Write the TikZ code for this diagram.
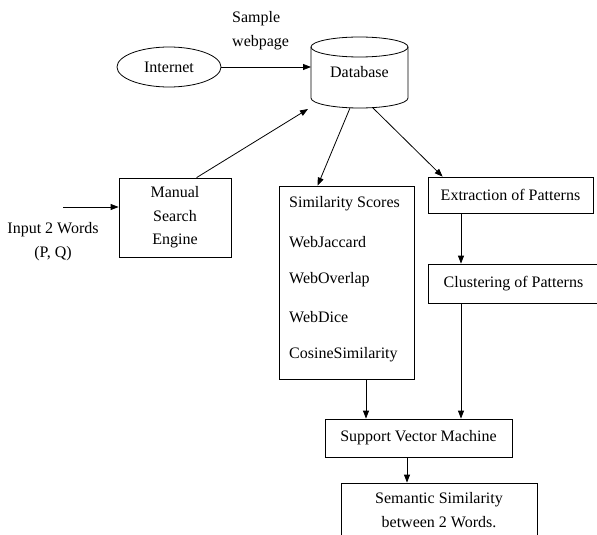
\documentclass[tikz,border=0pt]{standalone}
\usepackage{fontspec}
\setmainfont{Liberation Serif}
\usetikzlibrary{shapes.geometric,arrows.meta,calc}
\begin{document}
\begin{tikzpicture}[x=1pt,y=1pt,
  every node/.style={font=\fontsize{16}{23.5}\selectfont, inner sep=0pt},
  boxed/.style={draw, line width=0.8pt, rectangle, align=center},
  arr/.style={line width=0.8pt, -{Triangle[length=8pt,width=6pt]}},
  lbl/.style={anchor=west}]
\useasboundingbox (0,0) rectangle (597,-535);
% nodes
\node[ellipse, draw, line width=0.8pt, minimum width=104pt, minimum height=40pt] (inet) at (169,-67) {Internet};
\node[align=left, anchor=west] (sample) at (232,-30.5) {Sample\\webpage};
% cylinder
\draw[line width=0.8pt] (359.5,-47) ellipse [x radius=48.5pt, y radius=10pt];
\draw[line width=0.8pt] (311,-47) -- (311,-98) arc[start angle=180, end angle=360, x radius=48.5pt, y radius=10pt] -- (408,-47);
\node (db) at (359.5,-72) {Database};
\coordinate (dbin) at (311,-67);
\coordinate (dbman) at (308,-109);
\coordinate (dbsim) at (350,-108);
\coordinate (dbext) at (373,-108);
\node[boxed, minimum width=112pt, minimum height=79pt] (man) at (175,-217.5) {Manual\\Search\\Engine};
\coordinate (inp) at (63,-207);
\node[align=center] (input) at (53,-241.5) {Input 2 Words\\(P, Q)};
\node[boxed, minimum width=135pt, minimum height=193pt] (sim) at (346.5,-282.5) {};
\node[lbl] (s1) at (289,-204) {Similarity Scores};
\node[lbl] (s2) at (289,-242) {WebJaccard};
\node[lbl] (s3) at (289,-280) {WebOverlap};
\node[lbl] (s4) at (289,-317) {WebDice};
\node[lbl] (s5) at (289,-355) {CosineSimilarity};
\node[boxed, minimum width=165pt, minimum height=36pt] (ext) at (510.5,-195) {Extraction of Patterns};
\node[boxed, minimum width=171pt, minimum height=39pt] (clu) at (513.5,-283.5) {Clustering of Patterns};
\node[boxed, minimum width=187pt, minimum height=38pt] (svm) at (418.5,-438) {Support Vector Machine};
\node[boxed, minimum width=196pt, minimum height=54pt] (sem) at (439,-510) {Semantic Similarity\\between 2 Words.};
% connectors
\draw[arr] (inet.east |- dbin) -- (dbin);
\draw[arr] ($(man.north west)+(78,0)$) -- (dbman);
\draw[arr] (dbsim) -- ($(sim.north west)+(39,0)$);
\draw[arr] (dbext) -- ($(ext.north west)+(15,0)$);
\draw[arr] (inp) -- (inp -| man.west);
\draw[arr] (ext.south -| 461,0) -- (clu.north -| 461,0);
\draw[arr] (clu.south -| 461,0) -- (svm.north -| 461,0);
\draw[arr] (sim.south -| 366,0) -- (svm.north -| 366,0);
\draw[arr] (svm.south -| 407,0) -- (sem.north -| 407,0);
\end{tikzpicture}
\end{document}
